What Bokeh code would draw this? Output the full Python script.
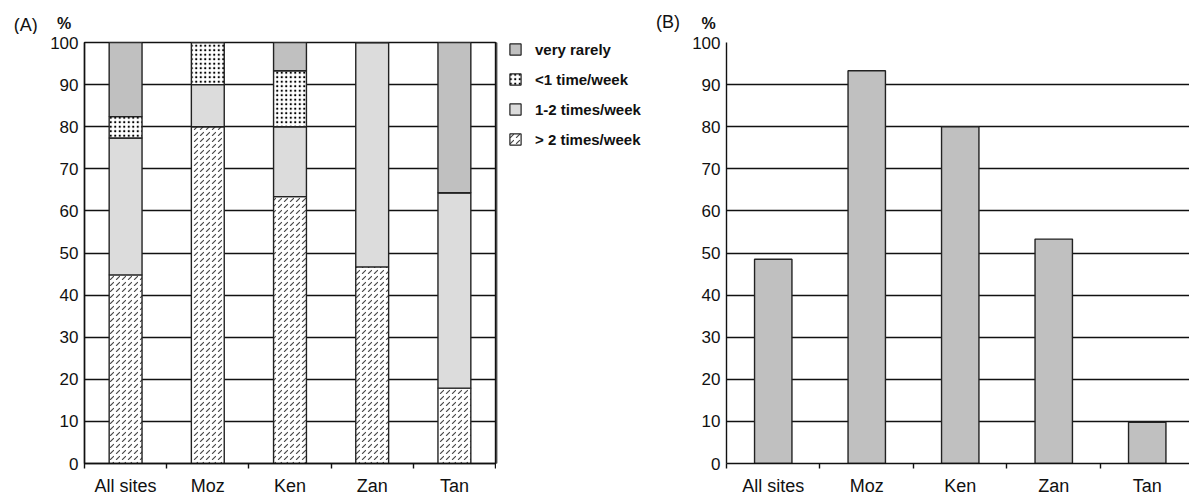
from bokeh.plotting import figure
from bokeh.models import ColumnDataSource, Range1d, FixedTicker, Legend, LegendItem
from bokeh.core.properties import value
from bokeh.layouts import row, column
from bokeh.embed import file_html
from bokeh.resources import INLINE

# ---- data ----
categories = ["All sites", "Moz", "Ken", "Zan", "Tan"]
positions = [0.5, 1.5, 2.5, 3.5, 4.5]
gt2_week = [44.8, 80.0, 63.4, 46.7, 17.9]        # > 2 times/week
one_two_week = [32.5, 10.0, 16.6, 53.3, 46.4]    # 1-2 times/week
lt1_week = [5.1, 10.0, 13.3, 0.0, 0.0]           # <1 time/week
very_rarely = [17.6, 0.0, 6.7, 0.0, 35.7]        # very rarely
panel_b_values = [48.5, 93.3, 80.0, 53.3, 9.8]
y_ticks = [0, 10, 20, 30, 40, 50, 60, 70, 80, 90, 100]
series_labels = ["very rarely", "<1 time/week", "1-2 times/week", "> 2 times/week"]

FONT = "Liberation Sans"
INK = "#111111"
overrides = {p: c for p, c in zip(positions, categories)}

# styles for stack order bottom -> top: >2, 1-2, <1, very rarely
fills = ["white", "#dcdcdc", "white", "#c0c0c0"]
hatches = ["right_diagonal_dash", "blank", "dot", "blank"]
hatch_colors = ["#444444", "#555555", "black", "#555555"]
hatch_scales = [6, 6, 4.5, 6]
hatch_weights = [1.1, 1.0, 2.2, 1.0]


def style_axes(p):
    p.xgrid.visible = False
    p.ygrid.ticker = FixedTicker(ticks=y_ticks[1:])
    p.ygrid.grid_line_color = INK
    p.ygrid.grid_line_width = 1.4
    p.xaxis.ticker = FixedTicker(ticks=positions, minor_ticks=list(range(0, 6)))
    p.xaxis.major_label_overrides = overrides
    p.xaxis.major_tick_out = 0
    p.xaxis.major_tick_in = 0
    p.xaxis.minor_tick_out = 5
    p.xaxis.minor_tick_in = 0
    p.xaxis.minor_tick_line_color = INK
    p.xaxis.minor_tick_line_width = 1.4
    p.xaxis.major_label_standoff = 7
    p.xaxis.major_label_text_font_size = "18px"
    p.yaxis.ticker = FixedTicker(ticks=y_ticks)
    p.yaxis.major_tick_out = 0
    p.yaxis.major_tick_in = 0
    p.yaxis.minor_tick_line_color = None
    p.yaxis.major_label_standoff = 6
    p.yaxis.major_label_text_font_size = "17px"
    for ax in (p.xaxis, p.yaxis):
        ax.axis_line_color = INK
        ax.axis_line_width = 1.4
        ax.major_label_text_font = FONT
        ax.major_label_text_color = INK


# ---- header strip with panel letters and % signs ----
hdr = figure(width=1189, height=34, x_range=Range1d(0, 1189), y_range=Range1d(0, 34),
             x_axis_type=None, y_axis_type=None, output_backend="svg",
             toolbar_location=None, min_border=0)
hdr.outline_line_color = None
hdr.text(x=[25.3, 667.5], y=[9.8, 12.3], text=["(A)", "(B)"], text_font=value(FONT),
         text_font_size="18px", text_baseline="middle", text_align="center", text_color=INK)
hdr.text(x=[63.5, 708.0], y=[11.0, 11.5], text=["%", "%"], text_font=value(FONT),
         text_font_size="16px", text_font_style="bold", text_baseline="middle",
         text_align="center", text_color=INK)

# ---- panel A ----
src = ColumnDataSource(dict(x=positions, gt2=gt2_week, one_two=one_two_week,
                            lt1=lt1_week, rarely=very_rarely))

pa = figure(width=496, height=464, x_range=Range1d(0, 5), y_range=Range1d(0, 100),
            output_backend="svg", toolbar_location=None,
            min_border_left=84, min_border_right=1, min_border_top=8, min_border_bottom=35)
style_axes(pa)
pa.outline_line_color = INK
pa.outline_line_width = 1.4

rs = pa.vbar_stack(["gt2", "one_two", "lt1", "rarely"], x="x", width=0.4, source=src,
                   fill_color=fills, line_color="#222222", line_width=1.4,
                   hatch_pattern=hatches, hatch_color=hatch_colors,
                   hatch_scale=hatch_scales, hatch_weight=hatch_weights)

# ---- legend strip to the right of panel A ----
lg = figure(width=179, height=464, x_range=Range1d(0, 1), y_range=Range1d(0, 1),
            x_axis_type=None, y_axis_type=None, output_backend="svg",
            toolbar_location=None, min_border=0)
lg.outline_line_color = None
dummies = []
for i in range(4):
    # legend proxies, placed outside the visible range
    dummies.append(lg.vbar(x=[-10], top=[1], width=0.1, fill_color=fills[i],
                           line_color="#222222", line_width=1.2,
                           hatch_pattern=hatches[i], hatch_color=hatch_colors[i],
                           hatch_scale=hatch_scales[i], hatch_weight=hatch_weights[i]))
legend = Legend(items=[LegendItem(label=series_labels[0], renderers=[dummies[3]]),
                       LegendItem(label=series_labels[1], renderers=[dummies[2]]),
                       LegendItem(label=series_labels[2], renderers=[dummies[1]]),
                       LegendItem(label=series_labels[3], renderers=[dummies[0]])],
                location=(12, 315), glyph_width=14, glyph_height=14, label_height=18,
                spacing=12, padding=0, margin=0, label_standoff=13,
                border_line_color=None, background_fill_alpha=0,
                label_text_font=FONT, label_text_font_size="15px",
                label_text_font_style="bold", label_text_color=INK,
                label_text_baseline="middle")
lg.add_layout(legend)

# ---- panel B ----
pb = figure(width=514, height=464, x_range=Range1d(0, 4.952), y_range=Range1d(0, 100),
            output_backend="svg", toolbar_location=None,
            min_border_left=51, min_border_right=0, min_border_top=8, min_border_bottom=35)
style_axes(pb)
pb.outline_line_color = None
pb.vbar(x=positions, top=panel_b_values, width=0.4, fill_color="#c0c0c0",
        line_color="#222222", line_width=1.4)

layout = column(hdr, row(pa, lg, pb))
open("out.html", "w").write(file_html(layout, INLINE))
